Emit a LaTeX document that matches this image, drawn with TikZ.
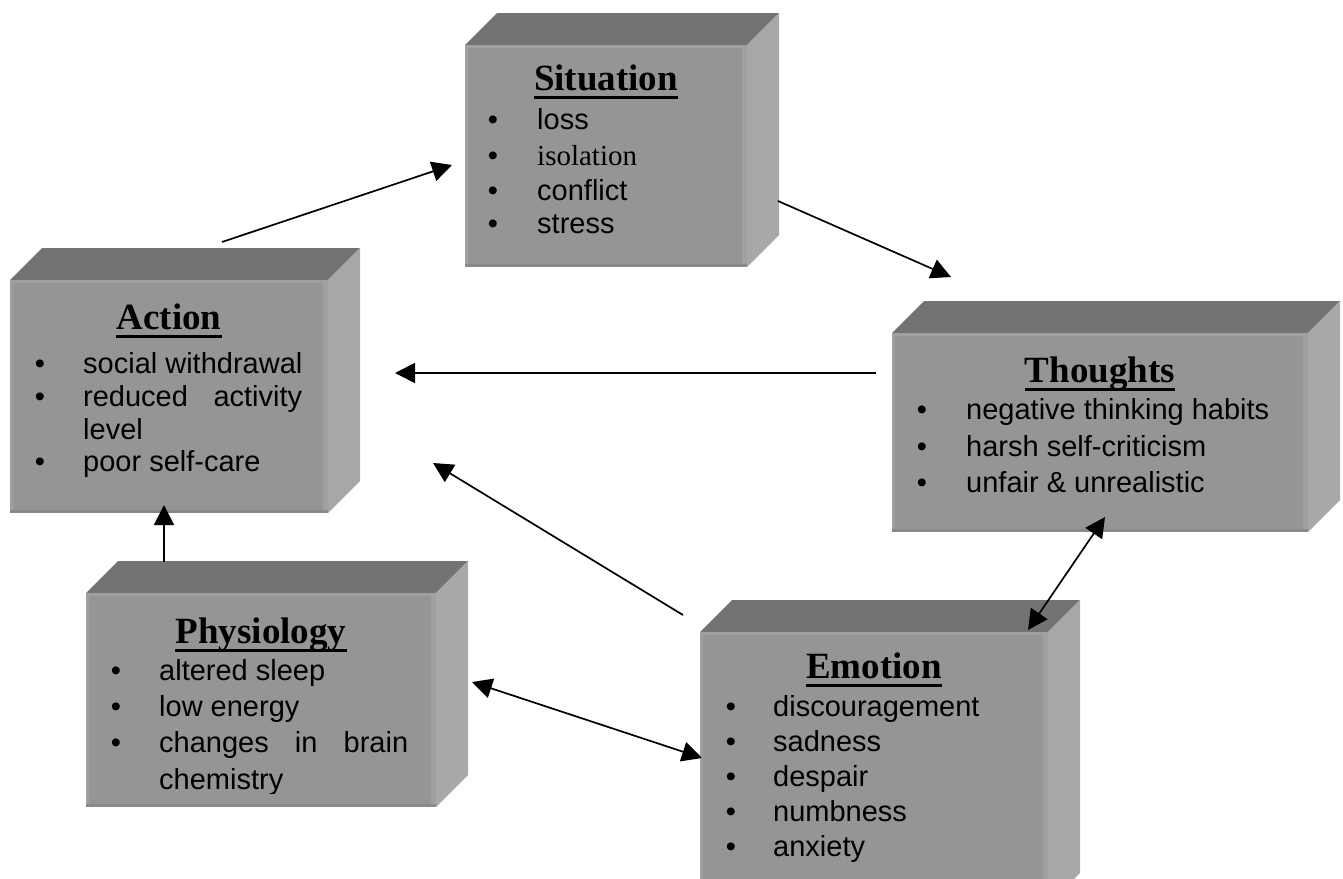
\documentclass[tikz,border=0pt]{standalone}
\usepackage{fontspec}
\setmainfont{Liberation Serif}
\setsansfont{Liberation Sans}
\newfontfamily\bodyf{Liberation Sans}
\newfontfamily\titlef{Liberation Serif}
\usetikzlibrary{arrows.meta}

\definecolor{frontc}{HTML}{959595}
\definecolor{topc}{HTML}{737373}
\definecolor{sidec}{HTML}{A8A8A8}
\definecolor{rimc}{HTML}{A0A0A0}
\definecolor{lowc}{HTML}{898989}

\tikzset{
  front/.style={draw=none, fill=frontc, inner sep=0pt, outer sep=0pt, anchor=north west},
  ttl/.style={font=\titlef\bfseries\fontsize{37}{40}\selectfont, inner sep=0pt, anchor=base},
  itm/.style={font=\bodyf\fontsize{29}{34}\selectfont, inner sep=0pt, anchor=base west},
  itmserif/.style={font=\titlef\fontsize{29}{34}\selectfont, inner sep=0pt, anchor=base west},
  bul/.style={font=\bodyf\fontsize{29}{34}\selectfont, inner sep=0pt, anchor=base},
  uline/.style={line width=3pt},
  conn/.style={line width=1.7pt, -{Triangle[length=20pt,width=20pt]}},
  connboth/.style={line width=1.7pt, {Triangle[length=20pt,width=20pt]}-{Triangle[length=20pt,width=20pt]}},
}

% #1 name, #2 x1, #3 y1, #4 x2, #5 y2  (pixel units, y downward)
\newcommand\cuboid[5]{%
  \node[front, minimum width={(#4-#2)*1pt}, minimum height={(#5-#3)*1pt}] (#1) at (#2,#3) {};
  \fill[topc] (#1.north west) -- ([shift={(32,-32)}]#1.north west)
     -- ([shift={(32,-32)}]#1.north east) -- (#1.north east) -- cycle;
  \fill[sidec] (#1.north east) -- ([shift={(32,-32)}]#1.north east)
     -- ([shift={(32,-32)}]#1.south east) -- (#1.south east) -- cycle;
  \fill[rimc] (#1.north west) rectangle ([yshift=-3pt]#1.north east);
  \fill[rimc] (#1.north west) rectangle ([xshift=3pt]#1.south west);
  \fill[rimc] ([xshift=-5pt]#1.north east) rectangle (#1.south east);
  \fill[lowc] ([yshift=3pt]#1.south west) rectangle (#1.south east);
}
% #1 name, #2 x, #3 baseline y, #4 text
\newcommand\boxtitle[4]{%
  \node[ttl] (#1) at (#2,#3) {#4};
  \draw[uline] ([yshift=-7pt]#1.base west) -- ([yshift=-7pt]#1.base east);
}
% #1 name, #2 bullet x, #3 text x, #4 baseline y, #5 text
\newcommand\bitem[5]{%
  \node[bul] (#1b) at (#2,#4) {•};
  \node[itm] (#1) at (#3,#4) {#5};
}

\begin{document}
\begin{tikzpicture}[x=1pt, y=-1pt]
\useasboundingbox (0,0) rectangle (1343,878);
\clip (0,0) rectangle (1343,878);

% ---------- Situation ----------
\cuboid{sit}{465}{45}{747}{267}
\boxtitle{sitT}{606}{90}{Situation}
\bitem{sit1}{493}{537}{129.5}{loss}
\node[bul] (sit2b) at (493,165.5) {•};
\node[itmserif] (sit2) at (537,165.5) {isolation};
\bitem{sit3}{493}{537}{200.5}{conflict}
\bitem{sit4}{493}{537}{233}{stress}

% ---------- Action ----------
\cuboid{act}{10}{280}{328}{513}
\boxtitle{actT}{169}{329}{Action}
\bitem{act1}{40}{83}{373.5}{social withdrawal}
\bitem{act2}{40}{83}{406.5}{\makebox[219pt][s]{reduced activity}}
\node[itm] (act3) at (83,439) {level};
\bitem{act4}{40}{83}{471.5}{poor self-care}

% ---------- Thoughts ----------
\cuboid{tho}{892}{333}{1308}{532}
\boxtitle{thoT}{1100}{382}{Thoughts}
\bitem{tho1}{922}{966}{419.5}{negative thinking habits}
\bitem{tho2}{922}{966}{456}{harsh self-criticism}
\bitem{tho3}{922}{966}{492}{unfair \& unrealistic}

% ---------- Physiology ----------
\cuboid{phy}{86}{593}{436}{807}
\boxtitle{phyT}{261}{643}{Physiology}
\bitem{phy1}{116}{159}{680}{altered sleep}
\bitem{phy2}{116}{159}{716}{low energy}
\bitem{phy3}{116}{159}{752.5}{\makebox[249pt][s]{changes in brain}}
\begin{scope}
  \clip (86,593) rectangle (436,793);
  \node[itm] (phy4) at (159,789) {chemistry};
\end{scope}

% ---------- Emotion ----------
\cuboid{emo}{700}{632}{1048}{905}
\boxtitle{emoT}{874}{678}{Emotion}
\bitem{emo1}{731}{773}{716.5}{discouragement}
\bitem{emo2}{731}{773}{751.5}{sadness}
\bitem{emo3}{731}{773}{786.5}{despair}
\bitem{emo4}{731}{773}{821.5}{numbness}
\bitem{emo5}{731}{773}{856.5}{anxiety}

% ---------- connectors ----------
\coordinate (c1s) at (222,242);  \coordinate (c1e) at (452,165);
\coordinate (c2s) at (778,201);  \coordinate (c2e) at (951,277);
\coordinate (c3s) at (876,373);  \coordinate (c3e) at (395,373);
\coordinate (c4s) at (683,615);  \coordinate (c4e) at (433,463);
\coordinate (c5s) at (164,562);  \coordinate (c5e) at (164,505);
\coordinate (c6s) at (472,682);  \coordinate (c6e) at (702,758);
\coordinate (c7s) at (1105,517); \coordinate (c7e) at (1028,630);

\draw[conn] (c1s) -- (c1e);
\draw[conn] (c2s) -- (c2e);
\draw[conn] (c3s) -- (c3e);
\draw[conn] (c4s) -- (c4e);
\draw[conn] (c5s) -- (c5e);
\draw[connboth] (c6s) -- (c6e);
\draw[connboth] (c7s) -- (c7e);
\end{tikzpicture}
\end{document}
